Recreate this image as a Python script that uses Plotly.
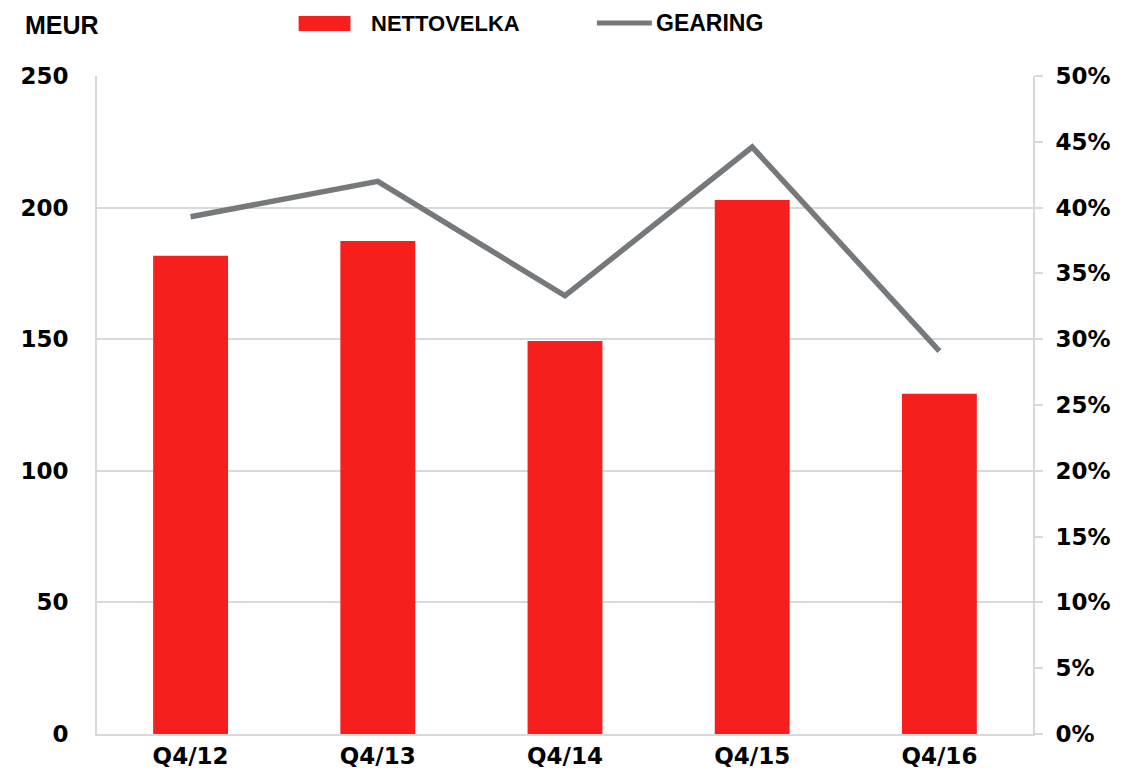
import plotly.graph_objects as go

categories = ["Q4/12", "Q4/13", "Q4/14", "Q4/15", "Q4/16"]
nettovelka = [181.7, 187.3, 149.3, 202.9, 129.3]
gearing = [39.3, 42.0, 33.3, 44.6, 29.1]

left_ticks = [0, 50, 100, 150, 200, 250]
right_ticks = [0, 5, 10, 15, 20, 25, 30, 35, 40, 45, 50]
right_labels = [f"{v}%" for v in right_ticks]

RED = "#F71E1E"
GREY = "#76797B"
GRID = "#D9D9D9"
FONT = "Liberation Sans"
TICKFONT = "DejaVu Sans"

fig = go.Figure()
fig.add_trace(go.Bar(x=categories, y=nettovelka, name="NETTOVELKA",
                     marker=dict(color=RED, line=dict(width=0)),
                     width=0.4, showlegend=False))
fig.add_trace(go.Scatter(x=categories, y=gearing, name="GEARING", yaxis="y2",
                         mode="lines", line=dict(color=GREY, width=5.5),
                         showlegend=False))

fig.update_layout(
    width=1127, height=775,
    margin=dict(l=87, r=102, t=68, b=49),
    paper_bgcolor="white", plot_bgcolor="white",
    font=dict(family=FONT, size=25, color="black", weight="bold"),
    xaxis=dict(showgrid=False, showline=True, linecolor=GRID, linewidth=2,
               ticks="", tickfont=dict(family=TICKFONT, size=23, weight="bold"),
               mirror=False, range=[-0.5, 4.5]),
    yaxis=dict(range=[0, 250], tickvals=left_ticks, showgrid=True, gridcolor=GRID,
               gridwidth=2, showline=True, linecolor=GRID, linewidth=2,
               ticks="", ticklabelstandoff=22, zeroline=False,
               tickfont=dict(family=TICKFONT, size=23, weight="bold")),
    yaxis2=dict(range=[0, 50], tickvals=right_ticks, ticktext=right_labels,
                overlaying="y", side="right", showgrid=False, showline=True,
                linecolor=GRID, linewidth=2, ticks="outside", ticklen=8,
                tickcolor=GRID, tickwidth=2, ticklabelstandoff=8, zeroline=False,
                tickfont=dict(family=TICKFONT, size=23, weight="bold")),
    bargap=0.6,
)

# legend drawn manually
fig.add_shape(type="rect", xref="paper", yref="paper",
              x0=0.2154, x1=0.2708, y0=1.0684, y1=1.0912,
              fillcolor=RED, line=dict(width=0))
fig.add_shape(type="line", xref="paper", yref="paper",
              x0=0.5341, x1=0.5928, y0=1.0805, y1=1.0805,
              line=dict(color=GREY, width=5))
fig.add_annotation(text="NETTOVELKA", xref="paper", yref="paper", x=0.2910, y=1.0805,
                   xanchor="left", yanchor="middle", showarrow=False,
                   font=dict(family=FONT, size=22, weight="bold"))
fig.add_annotation(text="GEARING", xref="paper", yref="paper", x=0.595, y=1.0805,
                   xanchor="left", yanchor="middle", showarrow=False,
                   font=dict(family=FONT, size=23, weight="bold"))
fig.add_annotation(text="MEUR", xref="paper", yref="paper", x=-0.078, y=1.1,
                   xanchor="left", yanchor="top", showarrow=False, borderpad=0,
                   font=dict(family=FONT, size=25, weight="bold"))

fig.write_html("out.html")
